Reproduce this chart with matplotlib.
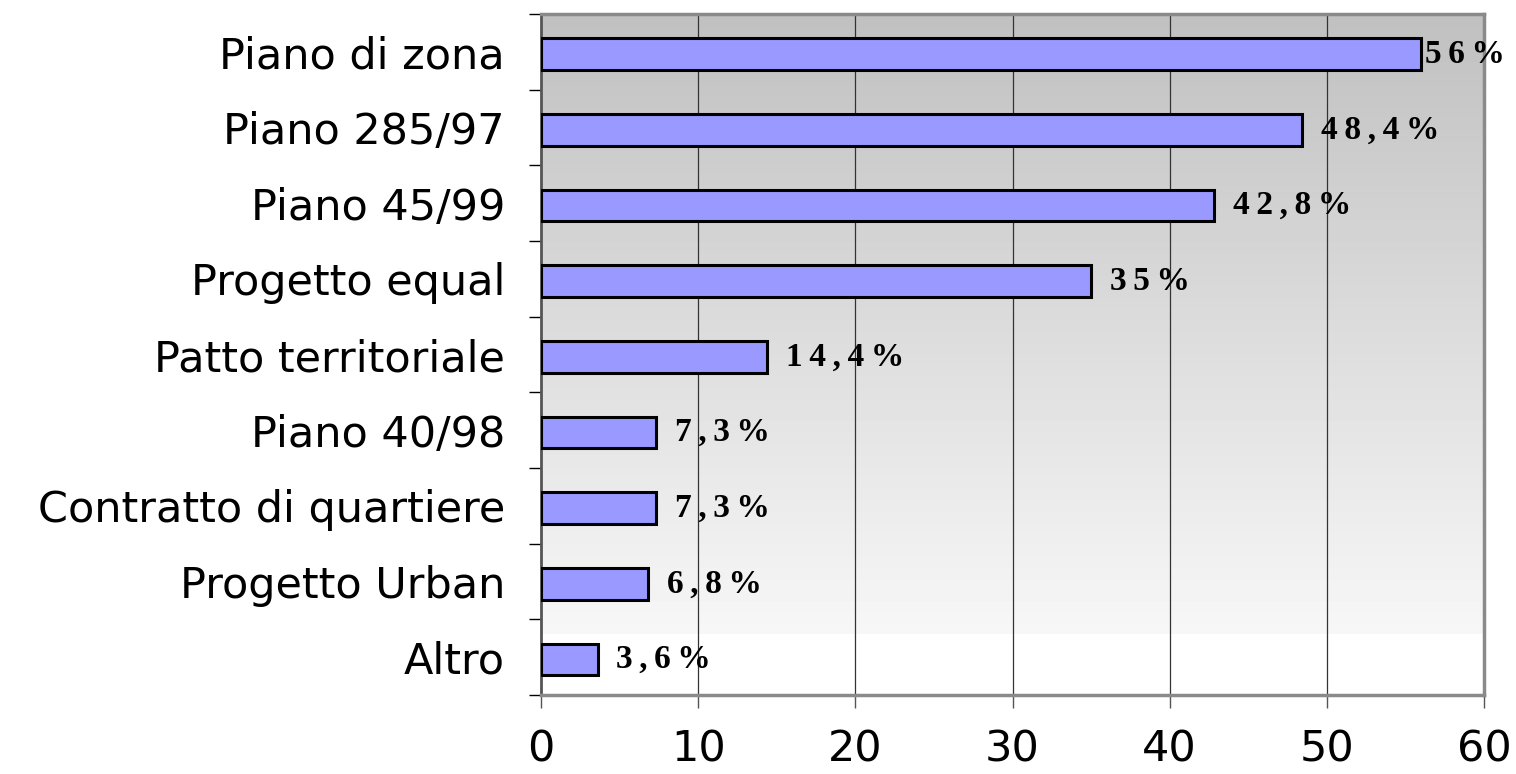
import matplotlib
matplotlib.use("Agg")
import matplotlib.pyplot as plt
import numpy as np

categories = ["Piano di zona", "Piano 285/97", "Piano 45/99", "Progetto equal",
              "Patto territoriale", "Piano 40/98", "Contratto di quartiere",
              "Progetto Urban", "Altro"]
values = [56, 48.4, 42.8, 35, 14.4, 7.3, 7.3, 6.8, 3.6]
value_labels = ["56%", "48,4%", "42,8%", "35%", "14,4%", "7,3%", "7,3%", "6,8%", "3,6%"]
xticks = [0, 10, 20, 30, 40, 50, 60]

fig = plt.figure(figsize=(15.16, 7.74), dpi=100)
W, H = 1516, 774
left, right, top, bottom = 541, 1484, 14, 695
ax = fig.add_axes([left / W, 1 - bottom / H, (right - left) / W, (bottom - top) / H])

n = len(categories)
ax.set_xlim(0, 60)
ax.set_ylim(n - 0.5, -0.5)

# gradient background
rows = 400
frac_white = (bottom - 635) / (bottom - top)
yy = np.linspace(0, 1, rows)  # 0 top, 1 bottom
grad = np.where(yy < 1 - frac_white, 192 + (247 - 192) * yy / (1 - frac_white), 255) / 255.0
img = np.repeat(grad[:, None], 2, axis=1)
ax.imshow(img, cmap="gray", vmin=0, vmax=1, aspect="auto",
          extent=[0, 60, n - 0.5, -0.5], zorder=0, interpolation="nearest")

for x in xticks[1:-1]:
    ax.axvline(x, color="#333333", lw=0.9, zorder=1)

y = np.arange(n)
ax.barh(y + 0.03, values, height=0.42, color="#9999ff", edgecolor="black", lw=2.2, zorder=3)

def spaced(s):
    return "\u2009".join(s)

for yi, v, lab in zip(y, values, value_labels):
    gap = 0.25 if v > 52 else 1.2
    ax.text(v + gap, yi + 0.03, spaced(lab), va="center", ha="left",
            fontsize=24, fontweight="bold", family=["Liberation Serif", "DejaVu Serif"],
            zorder=4, clip_on=False)

ax.set_yticks(y)
ax.set_yticklabels(categories, fontsize=31, family="DejaVu Sans")
ax.set_yticks(np.arange(n + 1) - 0.5, minor=True)
ax.tick_params(axis="y", which="major", length=0, pad=26)
ax.tick_params(axis="y", which="minor", length=9, width=1, color="black")

ax.set_xticks(xticks)
ax.set_xticklabels([str(t) for t in xticks], fontsize=31, family="DejaVu Sans")
ax.tick_params(axis="x", length=9, width=1, color="#555555", pad=15)

for s in ["top", "right", "bottom"]:
    ax.spines[s].set_color("#8a8a8a")
    ax.spines[s].set_linewidth(2.5)
ax.spines["left"].set_color("#555555")
ax.spines["left"].set_linewidth(2)

fig.savefig("out.png", dpi=100, facecolor="white")
